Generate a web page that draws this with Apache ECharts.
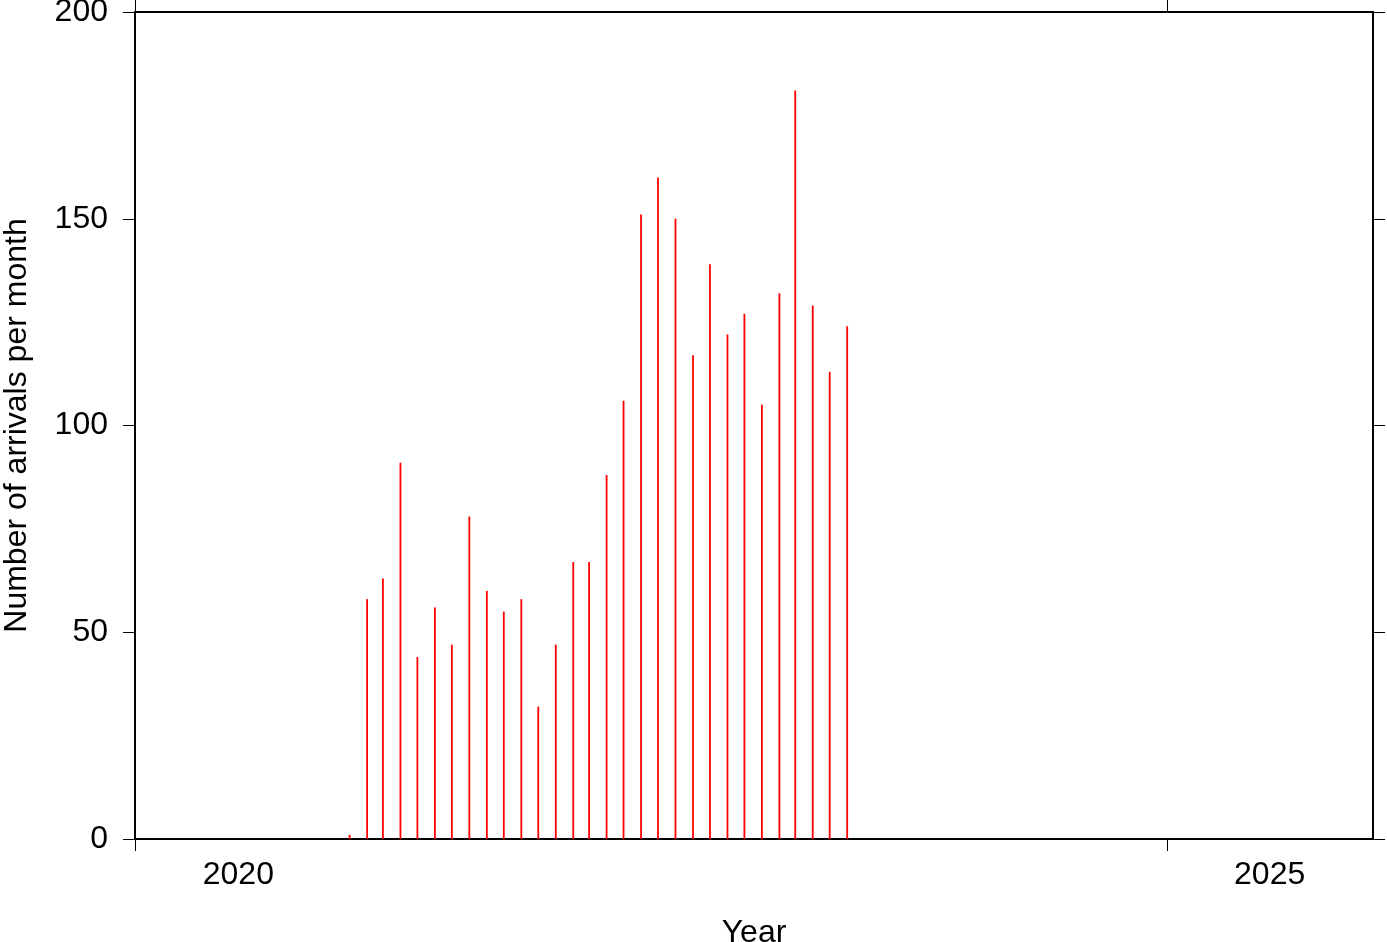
<!DOCTYPE html>
<html>
<head>
<meta charset="utf-8">
<script src="https://cdn.jsdelivr.net/npm/echarts@6/dist/echarts.min.js"></script>
<style>html,body{margin:0;padding:0;background:#fff}#c{width:1387px;height:942px}</style>
</head>
<body>
<div id="c"></div>
<script>
// Monthly arrivals (bar placed mid-month)
const months = ['2021-01','2021-02','2021-03','2021-04','2021-05','2021-06','2021-07','2021-08','2021-09','2021-10','2021-11','2021-12',
                '2022-01','2022-02','2022-03','2022-04','2022-05','2022-06','2022-07','2022-08','2022-09','2022-10','2022-11','2022-12',
                '2023-01','2023-02','2023-03','2023-04','2023-05','2023-06'];
const arrivals = [1,58,63,91,44,56,47,78,60,55,58,32,
                  47,67,67,88,106,151,160,150,117,139,122,127,
                  105,132,181,129,113,124];
const yearTicks = ['2020-01-01','2025-01-01'];
const yearLabelPos = ['2020-07-02','2025-07-02'];
const xMin = '2020-01-01', xMax = '2026-01-01';

const FONT = 'Liberation Sans, Arial, Helvetica, sans-serif';
const ts = s => Date.parse(s + 'T00:00:00Z');
const data = months.map((m,i)=>[ts(m+'-15'), arrivals[i]]);

const chart = echarts.init(document.getElementById('c'), null, {renderer:'canvas'});
const lineStyle = {color:'#000', width:2};
chart.setOption({
  animation:false,
  backgroundColor:'#fff',
  grid:{left:135, right:14, top:12, bottom:103, containLabel:false, outerBoundsMode:'none'},
  xAxis:[{
    type:'value', min:ts(xMin), max:ts(xMax), position:'bottom',
    name:'Year', nameLocation:'middle', nameGap:78,
    nameTextStyle:{fontFamily:FONT, fontSize:32, color:'#000'},
    axisLine:{show:true, lineStyle:lineStyle},
    axisTick:{show:true, inside:false, length:12, lineStyle:{color:'#000', width:1}, customValues:yearTicks.map(ts)},
    axisLabel:{show:true, margin:20, fontFamily:FONT, fontSize:32, color:'#000', customValues:yearLabelPos.map(ts),
      formatter:function(v){return String(new Date(v).getUTCFullYear());}},
    splitLine:{show:false}, minorTick:{show:false}
  },{
    type:'value', min:ts(xMin), max:ts(xMax), position:'top',
    axisLine:{show:true, onZero:false, lineStyle:lineStyle},
    axisTick:{show:true, inside:false, length:12, lineStyle:{color:'#000', width:1}, customValues:yearTicks.map(ts)},
    axisLabel:{show:false}, splitLine:{show:false}
  }],
  yAxis:[{
    type:'value', min:0, max:200, interval:50, position:'left',
    name:'Number of arrivals per month', nameLocation:'middle', nameGap:102,
    nameTextStyle:{fontFamily:FONT, fontSize:32, color:'#000'},
    axisLine:{show:true, lineStyle:lineStyle},
    axisTick:{show:true, inside:false, length:12, lineStyle:{color:'#000', width:1}},
    axisLabel:{show:true, margin:27, fontFamily:FONT, fontSize:32, color:'#000'},
    splitLine:{show:false}
  },{
    type:'value', min:0, max:200, interval:50, position:'right',
    axisLine:{show:true, onZero:false, lineStyle:lineStyle},
    axisTick:{show:true, inside:false, length:12, lineStyle:{color:'#000', width:1}},
    axisLabel:{show:false}, splitLine:{show:false}
  }],
  series:[{
    type:'bar', xAxisIndex:0, yAxisIndex:0, data:data,
    barWidth:1.8, itemStyle:{color:'#ff0000'}, z:1
  }]
});
</script>
</body>
</html>
